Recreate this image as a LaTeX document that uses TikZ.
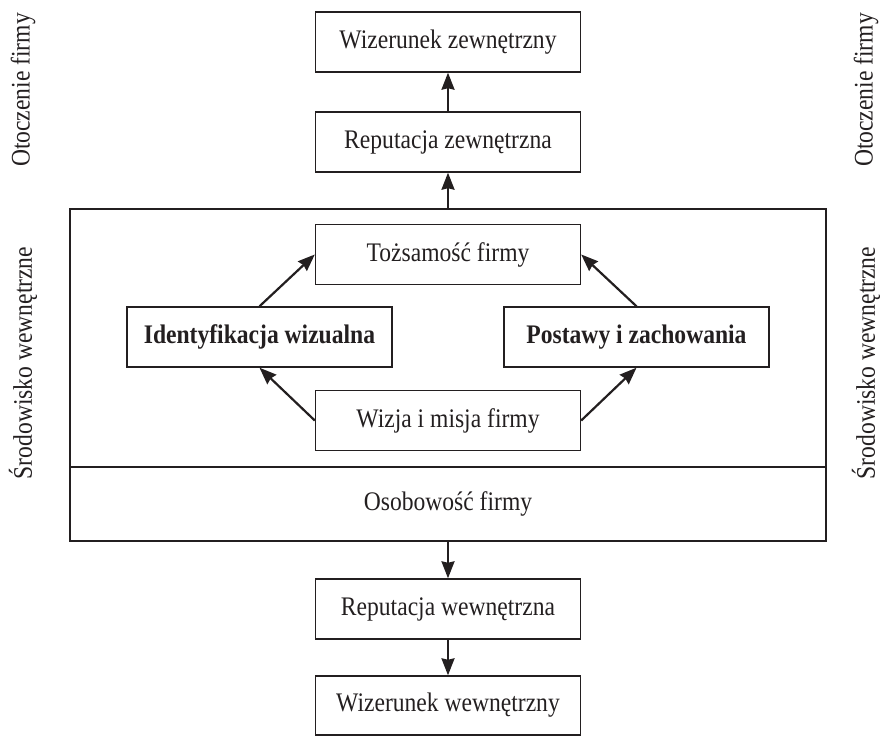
\documentclass[tikz,border=0pt]{standalone}
\usepackage{fontspec}
\setmainfont[FakeStretch=0.88]{Liberation Serif}
\usetikzlibrary{arrows.meta}
\definecolor{ink}{RGB}{35,31,32}
\begin{document}
\begin{tikzpicture}[x=1pt,y=-1pt,
  every node/.style={text=ink, font=\fontsize{26.8}{30}\selectfont},
  box/.style={draw=ink, line width=1.4pt, minimum width=265pt, minimum height=60pt, inner sep=0pt},
  bigbox/.style={draw=ink, line width=1.4pt, minimum width=756pt, minimum height=332pt, inner sep=0pt},
  arr/.style={draw=ink, line width=2.2pt, -{Stealth[length=17pt,width=13pt,inset=1.5pt]}},
  side/.style={rotate=90, inner sep=0pt}
]
\useasboundingbox (0,0) rectangle (882,736);
\node[bigbox] (big) at (448,375) {};
\draw[draw=ink, line width=1.4pt] (70,467) -- (826,467);
\node[box] (wz) at (448,42) {Wizerunek zewnętrzny};
\node[box] (rz) at (448,142) {Reputacja zewnętrzna};
\node[box] (toz) at (448,254.5) {Tożsamość firmy};
\node[box] (idw) at (259.5,337) {\bfseries Identyfikacja wizualna};
\node[box] (pz) at (636.5,337) {\bfseries Postawy i zachowania};
\node[box] (wm) at (448,420.5) {Wizja i misja firmy};
\node (oso) at (448,504) {Osobowość firmy};
\node[box, minimum height=60pt] (rw) at (448,609) {Reputacja wewnętrzna};
\node[box, minimum height=59pt] (ww) at (448,705.5) {Wizerunek wewnętrzny};
\node[side] (lo) at (23,90) {Otoczenie firmy};
\node[side] (ls) at (23,363) {Środowisko wewnętrzne};
\node[side] (ro) at (866,90) {Otoczenie firmy};
\node[side] (rs) at (866,363) {Środowisko wewnętrzne};
\draw[arr] (rz.north) -- (wz.south);
\draw[arr] (big.north) -- (rz.south);
\draw[arr] (idw.north) -- (toz.west);
\draw[arr] (pz.north) -- (toz.east);
\draw[arr] (wm.west) -- (idw.south);
\draw[arr] (wm.east) -- (pz.south);
\draw[arr] (big.south) -- (rw.north);
\draw[arr] (rw.south) -- (ww.north);
\end{tikzpicture}
\end{document}
